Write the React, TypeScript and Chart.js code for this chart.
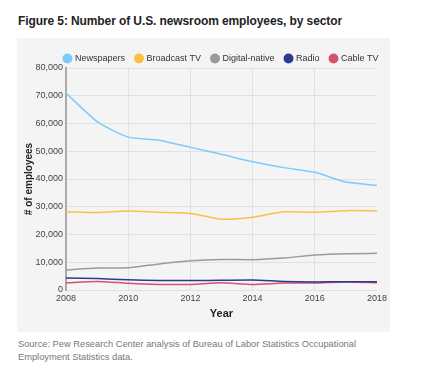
import React, { useEffect, useRef } from "react";
import { Chart, registerables } from "chart.js";
Chart.register(...registerables);

const years = [2008, 2009, 2010, 2011, 2012, 2013, 2014, 2015, 2016, 2017, 2018];
const newspapers = [71000, 60700, 55100, 54000, 51400, 48900, 46200, 44100, 42400, 38900, 37700];
const broadcastTV = [28200, 27900, 28500, 28000, 27600, 25500, 26200, 28200, 28000, 28600, 28500];
const digitalNative = [7200, 7900, 8000, 9400, 10500, 11000, 10900, 11500, 12600, 13100, 13200];
const radio = [4300, 4100, 3700, 3400, 3400, 3500, 3600, 3100, 2900, 3000, 3000];
const cableTV = [2600, 3100, 2400, 2000, 2000, 2600, 2000, 2500, 2500, 2900, 2600];

const seriesNames = ["Newspapers", "Broadcast TV", "Digital-native", "Radio", "Cable TV"];
const seriesColors = ["#7ccbf8", "#f7c244", "#9a9a9a", "#2d3a8f", "#d4536a"];
const seriesValues = [newspapers, broadcastTV, digitalNative, radio, cableTV];

const FONT = "'Liberation Sans', Arial, sans-serif";

const legendPlugin = {
  id: "legendTweak",
  beforeInit(chart: any) {
    const lg = chart.legend;
    if (lg && !lg.__patched) {
      const orig = lg.fit;
      lg.fit = function () {
        orig.call(this);
        this.height = 25;
      };
      lg.__patched = true;
    }
  },
  beforeDraw(chart: any) {
    const lg = chart.legend;
    if (lg) {
      const ca = chart.chartArea;
      lg.left = ca.left - 14;
      lg.right = ca.right + 14;
      lg.adjustHitBoxes && lg.adjustHitBoxes();
    }
  },
};

export default function App() {
  const ref = useRef<HTMLCanvasElement>(null);
  useEffect(() => {
    if (!ref.current) return;
    const chart = new Chart(ref.current, {
      type: "line",
      data: {
        datasets: seriesNames.map((name, i) => ({
          label: name,
          data: years.map((y, j) => ({ x: y, y: seriesValues[i][j] })),
          borderColor: seriesColors[i],
          backgroundColor: seriesColors[i],
          borderWidth: 1.5,
          pointRadius: 0,
          pointHoverRadius: 0,
          tension: 0.2,
          fill: false,
        })),
      },
      options: {
        animation: false,
        responsive: false,
        maintainAspectRatio: false,
        layout: { padding: { top: 5, left: 0, right: 0, bottom: 0 } },
        plugins: {
          tooltip: { enabled: false },
          legend: {
            display: true,
            position: "top",
            align: "center",
            labels: {
              usePointStyle: true,
              pointStyle: "circle",
              boxHeight: 6,
              boxWidth: 6,
              padding: 11,
              color: "#333",
              font: { family: FONT, size: 9 },
            },
          },
        },
        scales: {
          x: {
            type: "linear",
            min: 2008,
            max: 2018,
            ticks: {
              stepSize: 2,
              color: "#444",
              padding: 3,
              font: { family: FONT, size: 9 },
              callback: (v: any) => String(v),
              maxRotation: 0,
            },
            grid: {
              drawTicks: false,
              color: (ctx: any) => (ctx.tick && ctx.tick.value === 2018 ? "rgba(0,0,0,0)" : "#e1e1e1"),
              lineWidth: 1,
            },
            border: { display: false },
            title: {
              display: true,
              text: "Year",
              color: "#222",
              font: { family: FONT, size: 11, weight: "bold" },
              padding: { top: 0, bottom: 11 },
            },
            afterFit: (s: any) => {
              s.height = 42;
            },
          },
          y: {
            min: 0,
            max: 80000,
            ticks: {
              stepSize: 10000,
              color: "#444",
              padding: 3,
              font: { family: FONT, size: 9 },
              callback: (v: any) => Number(v).toLocaleString("en-US"),
            },
            grid: { drawTicks: false, color: "#e1e1e1", lineWidth: 1 },
            border: { display: true, color: "#aaaaaa", width: 2 },
            title: {
              display: true,
              text: "# of employees",
              color: "#222",
              font: { family: FONT, size: 10, weight: "bold" },
              padding: { top: 6, bottom: 0 },
            },
            afterFit: (s: any) => {
              s.width = 49;
            },
          },
        },
      },
      plugins: [legendPlugin],
    } as any);
    return () => chart.destroy();
  }, []);

  return (
    <div style={{ position: "fixed", left: 0, top: 0, width: 423, height: 372, background: "#fff", fontFamily: FONT }}>
      <div
        style={{
          position: "absolute",
          left: 18,
          top: 14,
          fontSize: 12,
          fontWeight: "bold",
          color: "#222",
          whiteSpace: "nowrap",
          lineHeight: "14px",
          letterSpacing: "-0.1px",
        }}
      >
        Figure 5: Number of U.S. newsroom employees, by sector
      </div>
      <div style={{ position: "absolute", left: 17, top: 38, width: 373, height: 294, background: "#f4f4f4" }}>
        <canvas ref={ref} width={373} height={294} style={{ display: "block" }} />
      </div>
      <div
        style={{
          position: "absolute",
          left: 18,
          top: 338,
          fontSize: 9.3,
          color: "#777",
          lineHeight: "12.5px",
          whiteSpace: "nowrap",
        }}
      >
        Source: Pew Research Center analysis of Bureau of Labor Statistics Occupational
        <br />
        Employment Statistics data.
      </div>
    </div>
  );
}
